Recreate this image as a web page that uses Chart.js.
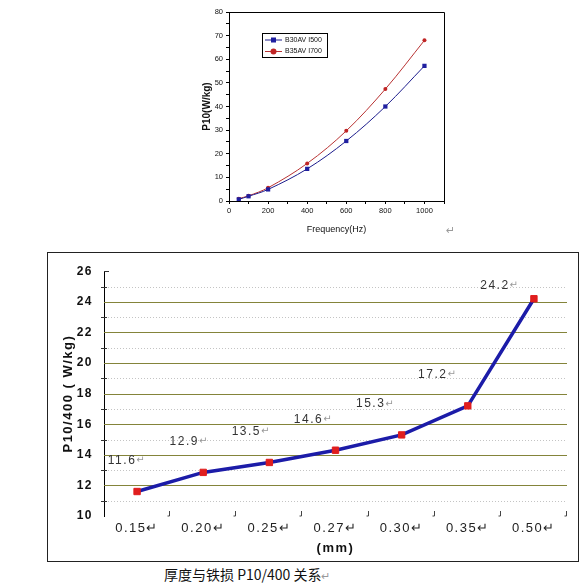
<!DOCTYPE html>
<html lang="zh">
<head>
  <meta charset="UTF-8">
  <meta name="viewport" content="width=device-width, initial-scale=1.0">
  <title>P10 铁损曲线</title>
  <style>
    body { margin: 0; background: #fff; width: 581px; height: 586px; position: relative; overflow: hidden;
           font-family: "Liberation Sans", Arial, sans-serif; }
    #topBox { position: absolute; left: 195px; top: 0; width: 270px; height: 240px; }
    #frame { position: absolute; left: 47px; top: 252px; width: 530px; height: 308px; border: 1px solid #222; }
    .ret { position: absolute; color: #9a9a9a; font-size: 11px; font-family: "DejaVu Sans"; }
    #caption { position: absolute; left: 164px; top: 564px; font-family: "Noto Sans CJK SC"; font-size: 14px;
               color: #111; white-space: nowrap; }
  </style>
  <script src="https://cdn.jsdelivr.net/npm/chart.js"></script>
</head>
<body>

  <div id="topBox"><canvas id="freqChart"></canvas></div>
  <span class="ret" style="left:446px; top:224px;">↵</span>

  <div id="frame"><canvas id="thickChart"></canvas></div>

  <div id="caption">厚度与铁损 P10/400 关系<span style="color:#999; font-size:11px;">↵</span></div>

<script>
    // --- top chart: loss vs frequency ---
    const freqHz = [50, 100, 200, 400, 600, 800, 1000];
    const lossB30 = [0.7, 2.0, 4.9, 13.6, 25.4, 40.0, 57.2];
    const lossB35 = [1.0, 2.2, 5.6, 15.9, 29.7, 47.4, 68.0];
    const freqTickLabels = [0, 200, 400, 600, 800, 1000];

    // --- bottom chart: loss vs thickness ---
    const thicknessMm = ['0.15', '0.20', '0.25', '0.27', '0.30', '0.35', '0.50'];
    const lossP10400 = [11.6, 12.85, 13.5, 14.3, 15.3, 17.2, 24.2];
    const pointLabels = ['11.6', '12.9', '13.5', '14.6', '15.3', '17.2', '24.2'];

    const FONT = '"Liberation Sans", Arial, sans-serif';
    Chart.defaults.font.family = FONT;

    // closes the plot box on top and right and draws the legend inside it
    const boxAndLegend = {
        id: 'boxAndLegend',
        afterDatasetsDraw(chart) {
            const { ctx, chartArea: a } = chart;
            ctx.save();
            ctx.strokeStyle = '#000';
            ctx.lineWidth = 1;
            ctx.beginPath();
            ctx.moveTo(a.left, a.top + 0.5);
            ctx.lineTo(a.right + 0.5, a.top + 0.5);
            ctx.lineTo(a.right + 0.5, a.bottom);
            ctx.stroke();

            const x = a.left + 33, y = a.top + 21;
            ctx.fillStyle = '#fff';
            ctx.fillRect(x, y, 65, 24);
            ctx.strokeRect(x + 0.5, y + 0.5, 65, 24);
            chart.data.datasets.forEach((ds, i) => {
                const ry = y + 7 + i * 11.5;
                ctx.strokeStyle = ds.borderColor;
                ctx.beginPath();
                ctx.moveTo(x + 3, ry);
                ctx.lineTo(x + 20, ry);
                ctx.stroke();
                ctx.fillStyle = ds.pointBackgroundColor;
                if (ds.pointStyle === 'rect') {
                    ctx.fillRect(x + 9, ry - 2.5, 5, 5);
                } else {
                    ctx.beginPath();
                    ctx.arc(x + 11.5, ry, 3, 0, Math.PI * 2);
                    ctx.fill();
                }
                ctx.fillStyle = '#111';
                ctx.font = '7px ' + FONT;
                ctx.textBaseline = 'middle';
                ctx.fillText(ds.label, x + 23, ry);
            });
            ctx.restore();
        }
    };

    new Chart(document.getElementById('freqChart'), {
        type: 'line',
        data: {
            datasets: [{
                label: 'B30AV I500',
                data: freqHz.map((f, i) => ({ x: f, y: lossB30[i] })),
                borderColor: '#1c1c8c',
                borderWidth: 1,
                pointStyle: 'rect',
                pointRadius: 3,
                pointBorderWidth: 0,
                pointBackgroundColor: '#1f1fa0',
                tension: 0.35
            }, {
                label: 'B35AV I700',
                data: freqHz.map((f, i) => ({ x: f, y: lossB35[i] })),
                borderColor: '#b83232',
                borderWidth: 1,
                pointStyle: 'circle',
                pointRadius: 2,
                pointBorderWidth: 0,
                pointBackgroundColor: '#c02525',
                tension: 0.35
            }]
        },
        options: {
            responsive: true,
            maintainAspectRatio: false,
            animation: false,
            layout: { padding: { top: 12, right: 21, bottom: 0, left: 0 } },
            plugins: { legend: { display: false }, tooltip: { enabled: false } },
            scales: {
                x: {
                    type: 'linear', min: 0, max: 1100,
                    ticks: {
                        stepSize: 100, autoSkip: false, maxRotation: 0, padding: 2,
                        color: '#111', font: { size: 7.5 },
                        callback: v => freqTickLabels.includes(v) ? v : ''
                    },
                    grid: { drawOnChartArea: false, tickLength: 3, color: '#000' },
                    border: { color: '#000', width: 1 },
                    title: { display: true, text: 'Frequency(Hz)', color: '#111', font: { size: 9 },
                             padding: { top: 0, bottom: 5 } },
                    afterFit(s) { s.height = 39; }
                },
                y: {
                    min: 0, max: 80,
                    ticks: {
                        stepSize: 5, autoSkip: false, padding: 3,
                        color: '#111', font: { size: 7.5 },
                        callback: v => v % 10 === 0 ? v : ''
                    },
                    grid: { drawOnChartArea: false, tickLength: 3, color: '#000' },
                    border: { color: '#000', width: 1 },
                    title: { display: true, text: 'P10(W/kg)', color: '#111', font: { size: 10, weight: 'bold' },
                             padding: { top: 6, bottom: 0 } },
                    afterFit(s) { s.width = 34; }
                }
            }
        },
        plugins: [boxAndLegend]
    });

    // spreads the letters a bit, like the original Word chart
    const spacing = {
        id: 'spacing',
        beforeDraw(chart) { chart.ctx.letterSpacing = '1.5px'; },
        afterDraw(chart) { chart.ctx.letterSpacing = '0px'; }
    };

    // olive lines on even values, dotted grey on odd, small axis ticks
    const excelGrid = {
        id: 'excelGrid',
        beforeDatasetsDraw(chart) {
            const { ctx, chartArea: a, scales: { x, y } } = chart;
            ctx.save();
            ctx.lineWidth = 1;
            y.ticks.forEach(t => {
                const py = Math.round(y.getPixelForValue(t.value)) + 0.5;
                if (t.value > y.min && t.value < y.max) {
                    ctx.beginPath();
                    if (t.value % 2 === 0) {
                        ctx.setLineDash([]);
                        ctx.strokeStyle = '#84843a';
                        ctx.moveTo(a.left, py);
                    } else {
                        ctx.setLineDash([1, 2]);
                        ctx.strokeStyle = '#c4c4c4';
                        ctx.moveTo(a.left + 4, py);
                    }
                    ctx.lineTo(a.right, py);
                    ctx.stroke();
                }
                ctx.setLineDash([]);
                ctx.strokeStyle = '#333';
                ctx.beginPath();
                if (t.value === y.max) {
                    ctx.moveTo(a.left, py); ctx.lineTo(a.left + 5, py);
                } else if (t.value % 2 !== 0) {
                    ctx.moveTo(a.left - 3, py); ctx.lineTo(a.left + 3, py);
                }
                ctx.stroke();
            });
            const half = (x.getPixelForValue(1) - x.getPixelForValue(0)) / 2;
            ctx.strokeStyle = '#444';
            for (let i = 1; i <= thicknessMm.length; i++) {
                const bx = Math.round(x.getPixelForValue(i - 1) + half) - 0.5;
                ctx.beginPath();
                ctx.moveTo(bx, a.bottom - 5);
                ctx.lineTo(bx, a.bottom);
                ctx.lineTo(bx - 2, a.bottom);
                ctx.stroke();
            }
            ctx.restore();
        },
        afterDatasetsDraw(chart) {
            const { ctx, chartArea: a } = chart;
            const meta = chart.getDatasetMeta(0);
            ctx.save();
            ctx.textBaseline = 'middle';
            meta.data.forEach((pt, i) => {
                const lx = pt.x - 15 - 4 * i;
                const ly = Math.max(pt.y - 31, a.top + 14);
                ctx.font = '12px ' + FONT;
                ctx.fillStyle = '#333';
                const w = ctx.measureText(pointLabels[i]).width;
                ctx.fillText(pointLabels[i], lx - w / 2, ly);
                ctx.font = '10px "DejaVu Sans"';
                ctx.fillStyle = '#999';
                ctx.fillText('↵', lx + w / 2, ly);
            });
            ctx.restore();
        }
    };

    new Chart(document.getElementById('thickChart'), {
        type: 'line',
        data: {
            labels: thicknessMm,
            datasets: [{
                label: 'P10/400',
                data: lossP10400,
                borderColor: '#1c1ca8',
                borderWidth: 3.5,
                pointStyle: 'rect',
                pointRadius: 4.5,
                pointBorderWidth: 1,
                pointBorderColor: '#e01e1e',
                pointBackgroundColor: '#e01e1e',
                tension: 0
            }]
        },
        options: {
            responsive: true,
            maintainAspectRatio: false,
            animation: false,
            layout: { padding: { top: 15, right: 11, bottom: 0, left: 0 } },
            plugins: { legend: { display: false }, tooltip: { enabled: false } },
            scales: {
                x: {
                    offset: true,
                    grid: { display: false, drawTicks: false },
                    border: { display: false },
                    ticks: {
                        padding: 5, color: '#222', font: { size: 13 }, maxRotation: 0,
                        callback: (v, i) => thicknessMm[i] + '↵'
                    },
                    title: { display: true, text: '(mm)', color: '#111', font: { size: 13, weight: 'bold' },
                             padding: { top: 0, bottom: 5 } },
                    afterFit(s) { s.height = 45; }
                },
                y: {
                    min: 10, max: 26,
                    grid: { display: false, drawTicks: false },
                    border: { display: true, color: '#000', width: 1 },
                    ticks: {
                        stepSize: 1, autoSkip: false, padding: 11,
                        color: '#111', font: { size: 12, weight: 'bold' },
                        callback: v => v % 2 === 0 ? v : ''
                    },
                    title: { display: true, text: 'P10/400 ( W/kg)', color: '#111',
                             font: { size: 13, weight: 'bold' }, padding: { top: 13, bottom: 0 } },
                    afterFit(s) { s.width = 56; }
                }
            }
        },
        plugins: [spacing, excelGrid]
    });
</script>

</body>
</html>
